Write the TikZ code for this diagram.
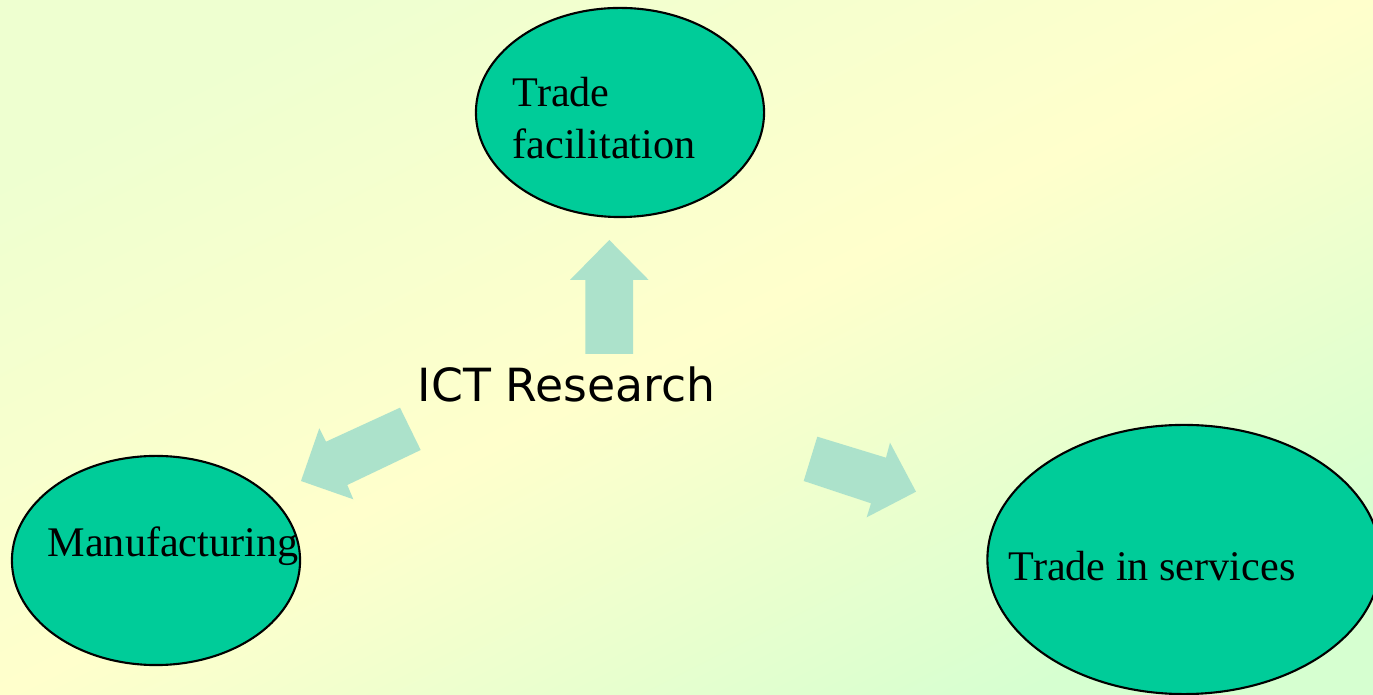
\documentclass[tikz,border=0pt]{standalone}
\usepackage{fontspec}
\setmainfont{Liberation Serif}
\newfontfamily\ictfont{DejaVu Sans}
\usetikzlibrary{shapes.geometric,positioning}
\definecolor{bubblegreen}{RGB}{0,204,153}
\definecolor{arrowgreen}{RGB}{172,226,203}
\definecolor{bgyellow}{RGB}{255,255,204}
\definecolor{bgtop}{RGB}{238,255,208}
\definecolor{bgbottom}{RGB}{214,255,208}

\begin{document}
\begin{tikzpicture}[x=0.01cm,y=-0.01cm,
   bubble/.style={ellipse,draw=black,line width=0.6pt,fill=bubblegreen,inner sep=0pt},
   lbl/.style={font=\fontsize{12}{14.7}\selectfont,inner sep=0pt,align=left,anchor=base west},
   blockarrow/.style={fill=arrowgreen}]
   \useasboundingbox (0,0) rectangle (1373,695);
   \clip (0,0) rectangle (1373,695);
   \shade[top color=bgtop,bottom color=bgbottom,middle color=bgyellow,shading angle=27]
      (0,0) rectangle (1373,695);
   % the three fields
   \node[bubble,minimum width=2.88cm,minimum height=2.09cm] (facil) at (620,112.5) {};
   \node[bubble,minimum width=2.88cm,minimum height=2.09cm] (manuf) at (156,560.5) {};
   \node[bubble,minimum width=3.93cm,minimum height=2.69cm] (serv) at (1184,559.5) {};
   \node[lbl] (facil_txt) at (512,158.3) {Trade\\facilitation};
   \node[lbl] (manuf_txt) at (47,557) {Manufacturing};
   \node[lbl] (serv_txt) at (1008,581) {Trade in services};
   % centre
   \node[font=\ictfont\fontsize{13}{15}\selectfont,inner sep=0pt,anchor=base west] (ict) at (417,402) {ICT Research};
   % block arrows
   \fill[blockarrow] (585.3,354) -- (633,354) -- (633,280) -- (648.7,280) -- (609.3,240)
      -- (570,280) -- (585.3,280) -- cycle;
   \fill[blockarrow] (817.3,436.7) -- (886,457.7) -- (890,442.7) -- (916,491.7)
      -- (866.7,517.3) -- (871,503.3) -- (803.7,481) -- cycle;
   \fill[blockarrow] (400,407.7) -- (420.7,450) -- (347.3,485) -- (353.3,499.3)
      -- (301,481) -- (319.3,428.3) -- (326,441.7) -- cycle;
\end{tikzpicture}
\end{document}
